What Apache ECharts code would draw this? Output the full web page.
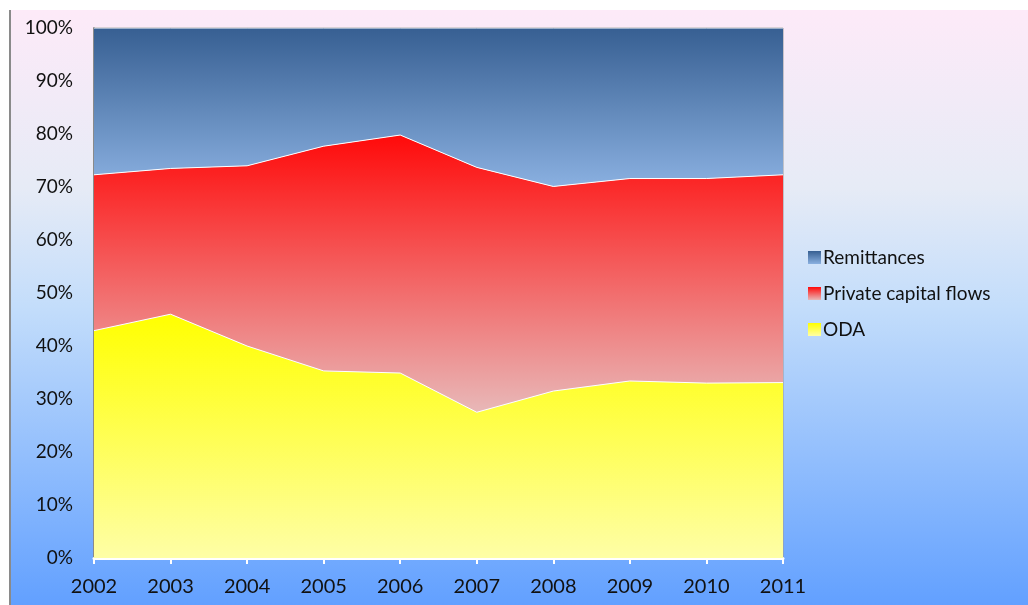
<!DOCTYPE html>
<html>
<head>
<meta charset="utf-8">
<script src="https://cdn.jsdelivr.net/npm/echarts@6/dist/echarts.min.js"></script>
<style>
  html, body { margin: 0; padding: 0; background: #fff; }
  #chart { position: absolute; left: 9px; top: 10px; width: 1019px; height: 595px; border-left: 2px solid #8a8a8a; box-sizing: border-box; }
</style>
</head>
<body>
<div id="chart"></div>
<script>
const years = ['2002', '2003', '2004', '2005', '2006', '2007', '2008', '2009', '2010', '2011']
// shares in percent, stacked to 100
const oda = [42.9, 46.0, 40.0, 35.3, 34.9, 27.5, 31.5, 33.4, 33.0, 33.1]
const privateFlows = [29.4, 27.5, 34.0, 42.4, 44.9, 46.2, 38.6, 38.2, 38.6, 39.2]
const remittances = [27.7, 26.5, 26.0, 22.3, 20.2, 26.3, 29.9, 28.4, 28.4, 27.7]

const myChart = echarts.init(document.getElementById('chart'))
const font = 'Lato, "Open Sans", sans-serif'

function vgrad(top, bottom) {
  return new echarts.graphic.LinearGradient(0, 0, 0, 1, [
    { offset: 0, color: top },
    { offset: 1, color: bottom }
  ])
}

const options = {
  animation: false,
  backgroundColor: new echarts.graphic.LinearGradient(0, 0, 0, 1, [
    { offset: 0, color: '#fdeaf8' },
    { offset: 0.3, color: '#e6ebf6' },
    { offset: 0.5, color: '#c3ddfb' },
    { offset: 1, color: '#62a0ff' }
  ]),
  textStyle: { fontFamily: font },
  legend: {
    orient: 'vertical',
    left: 792,
    top: 233,
    itemWidth: 13,
    itemHeight: 13,
    itemGap: 17,
    icon: 'rect',
    textStyle: { fontSize: 19, color: '#111', fontFamily: font, padding: [0, 0, 0, -3] },
    data: ['Remittances', 'Private capital flows', 'ODA']
  },
  grid: {
    left: 83,
    top: 18,
    right: 245,
    bottom: 47,
    show: true,
    borderColor: '#9a9a9a',
    borderWidth: 1
  },
  xAxis: {
    type: 'category',
    boundaryGap: false,
    data: years,
    axisLine: { show: true, lineStyle: { color: '#ffffff', width: 3 } },
    axisTick: { show: true, length: 6, lineStyle: { color: '#ffffff', width: 2 } },
    axisLabel: { color: '#111', fontSize: 20, margin: 19 },
    splitLine: { show: false }
  },
  yAxis: {
    type: 'value',
    min: 0,
    max: 100,
    interval: 10,
    axisLine: { show: true, lineStyle: { color: '#8a8a8a', width: 2 } },
    axisTick: { show: false },
    axisLabel: { color: '#111', fontSize: 19, margin: 21, formatter: '{value}%' },
    splitLine: { show: false }
  },
  series: [
    {
      name: 'ODA',
      type: 'line',
      stack: 'total',
      symbol: 'none',
      data: oda,
      itemStyle: { color: vgrad('#ffff00', '#fefea6') },
      lineStyle: { color: '#ffffff', width: 1 },
      areaStyle: { color: vgrad('#ffff00', '#fefea6'), opacity: 1 }
    },
    {
      name: 'Private capital flows',
      type: 'line',
      stack: 'total',
      symbol: 'none',
      data: privateFlows,
      itemStyle: { color: vgrad('#ff0a0a', '#e8b8b8') },
      lineStyle: { color: '#ffffff', width: 1 },
      areaStyle: { color: vgrad('#ff0a0a', '#e8b8b8'), opacity: 1 }
    },
    {
      name: 'Remittances',
      type: 'line',
      stack: 'total',
      symbol: 'none',
      data: remittances,
      itemStyle: { color: vgrad('#375f92', '#8ab0e0') },
      lineStyle: { color: '#ffffff', width: 1 },
      areaStyle: { color: vgrad('#375f92', '#8ab0e0'), opacity: 1 }
    }
  ]
}

myChart.setOption(options)
</script>
</body>
</html>
